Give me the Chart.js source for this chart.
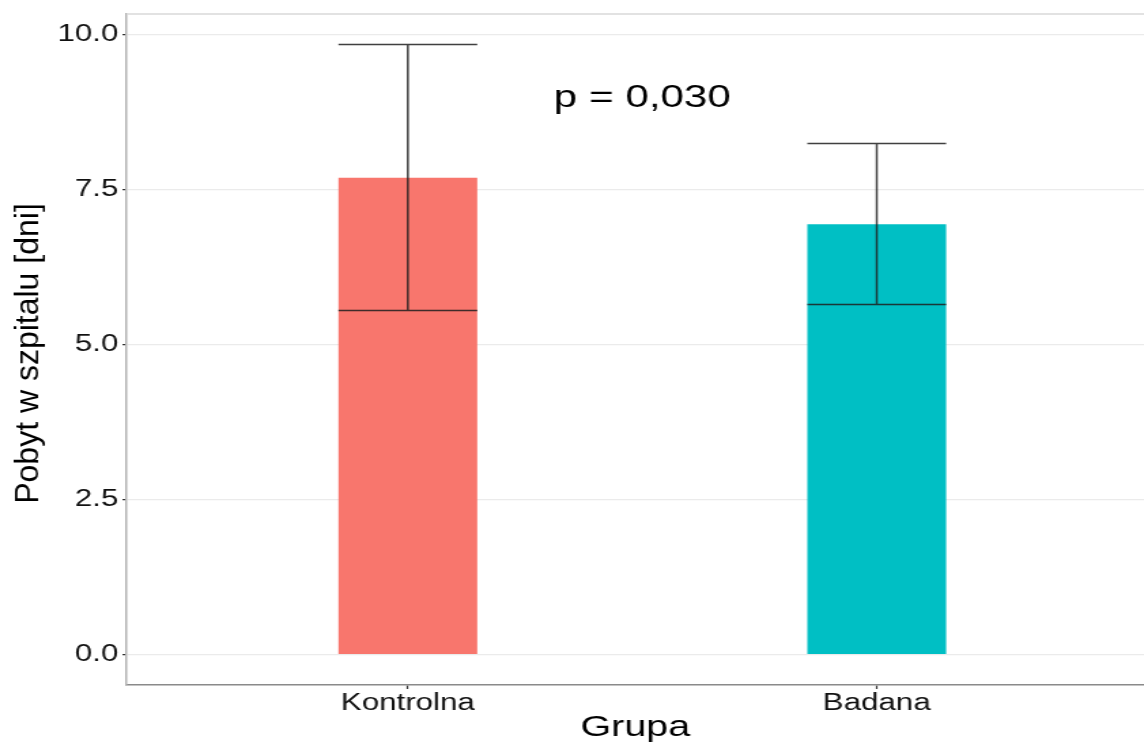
<!DOCTYPE html>
<html>
<head>
<meta charset="utf-8">
<script src="https://cdn.jsdelivr.net/npm/chart.js@4/dist/chart.umd.min.js"></script>
<style>
	html, body { margin: 0; padding: 0; background: #fff; overflow: hidden; }
</style>
</head>
<body>
<canvas id="chart" width="841" height="745" style="display:block; width:1144px; height:745px;"></canvas>
<script>
// data
const categories = ["Kontrolna", "Badana"];
const categoryPos = [1, 2];
const means = [7.69, 6.94];
const errLow = [5.55, 5.645];
const errHigh = [9.84, 8.24];
const barColors = ["#F8766D", "#00BFC4"];
const yTicks = [0, 2.5, 5, 7.5, 10];
const noteText = "p = 0,030";
const notePos = [1.5, 8.97];
const yTitle = "Pobyt w szpitalu [dni]";

const FONT = "'Liberation Sans', Arial, sans-serif";
// the picture is drawn narrow and stretched sideways by the page
const STRETCH = 1144 / 841;

// error bars drawn on top of the bars, as wide as the bars
const errorBars = {
	id: "errorBars",
	afterDatasetsDraw(chart) {
		const ctx = chart.ctx;
		const y = chart.scales.y;
		const meta = chart.getDatasetMeta(0);
		ctx.save();
		ctx.strokeStyle = "rgba(30,30,30,0.85)";
		ctx.lineWidth = 1.5;
		meta.data.forEach(function(bar, i) {
			let half = bar.width / 2;
			let yLo = y.getPixelForValue(errLow[i]);
			let yHi = y.getPixelForValue(errHigh[i]);
			ctx.beginPath();
			ctx.moveTo(bar.x, yLo);
			ctx.lineTo(bar.x, yHi);
			ctx.moveTo(bar.x - half, yLo);
			ctx.lineTo(bar.x + half, yLo);
			ctx.moveTo(bar.x - half, yHi);
			ctx.lineTo(bar.x + half, yHi);
			ctx.stroke();
		});
		// p value note
		ctx.fillStyle = "#000";
		ctx.font = "31px " + FONT;
		ctx.textAlign = "center";
		ctx.textBaseline = "middle";
		ctx.fillText(noteText, chart.scales.x.getPixelForValue(notePos[0]), y.getPixelForValue(notePos[1]));
		// top panel border
		const a = chart.chartArea;
		ctx.strokeStyle = "#d9d9d9";
		ctx.lineWidth = 1.5;
		ctx.beginPath();
		ctx.moveTo(a.left, a.top);
		ctx.lineTo(a.right, a.top);
		ctx.stroke();
		// y axis title, not stretched like the rest
		ctx.translate(21.3, (a.top + a.bottom) / 2 + 4);
		ctx.scale(1 / STRETCH, 1);
		ctx.rotate(-Math.PI / 2);
		ctx.font = "32px " + FONT;
		ctx.fillText(yTitle, 0, 0);
		ctx.restore();
	}
};

new Chart(document.getElementById("chart"), {
	type: "bar",
	data: {
		datasets: [{
			data: categoryPos.map(function(x, i) { return { x: x, y: means[i] }; }),
			backgroundColor: barColors,
			borderWidth: 0,
			categoryPercentage: 1,
			barPercentage: 0.296
		}]
	},
	options: {
		responsive: false,
		animation: false,
		devicePixelRatio: 1,
		layout: { padding: { top: 14, right: 0, left: 0, bottom: 0 } },
		plugins: {
			legend: { display: false },
			tooltip: { enabled: false }
		},
		scales: {
			x: {
				type: "linear",
				offset: false,
				min: 0.4,
				max: 2.57,
				afterBuildTicks: function(scale) {
					scale.ticks = categoryPos.map(function(v) { return { value: v }; });
				},
				afterFit: function(scale) {
					scale.height = 60;
					scale.paddingLeft = 0;
					scale.paddingRight = 0;
				},
				ticks: {
					callback: function(v) { return categories[categoryPos.indexOf(v)]; },
					color: "#111",
					font: { family: FONT, size: 23 },
					padding: 1,
					maxRotation: 0,
					autoSkip: false
				},
				grid: { offset: false, drawOnChartArea: false, drawTicks: true, tickLength: 4, tickColor: "#333", tickWidth: 1.2 },
				border: { display: true, color: "#8a8a8a", width: 1.5 },
				title: {
					display: true,
					text: "Grupa",
					color: "#000",
					font: { family: FONT, size: 29 },
					padding: { top: 0, bottom: 0 }
				}
			},
			y: {
				min: -0.49,
				max: 10.33,
				afterBuildTicks: function(scale) {
					scale.ticks = yTicks.map(function(v) { return { value: v }; });
				},
				afterFit: function(scale) {
					scale.width = 93;
					scale.paddingTop = 0;
					scale.paddingBottom = 0;
				},
				ticks: {
					callback: function(v) { return v.toFixed(1); },
					color: "#111",
					font: { family: FONT, size: 23 },
					padding: 3
				},
				grid: { color: "#ebebeb", lineWidth: 1.2, tickLength: 3, tickColor: "#333", tickWidth: 1.2 },
				border: { display: true, color: "#b5b5b5", width: 1.5 },
				title: { display: false }
			}
		}
	},
	plugins: [errorBars]
});
</script>
</body>
</html>
